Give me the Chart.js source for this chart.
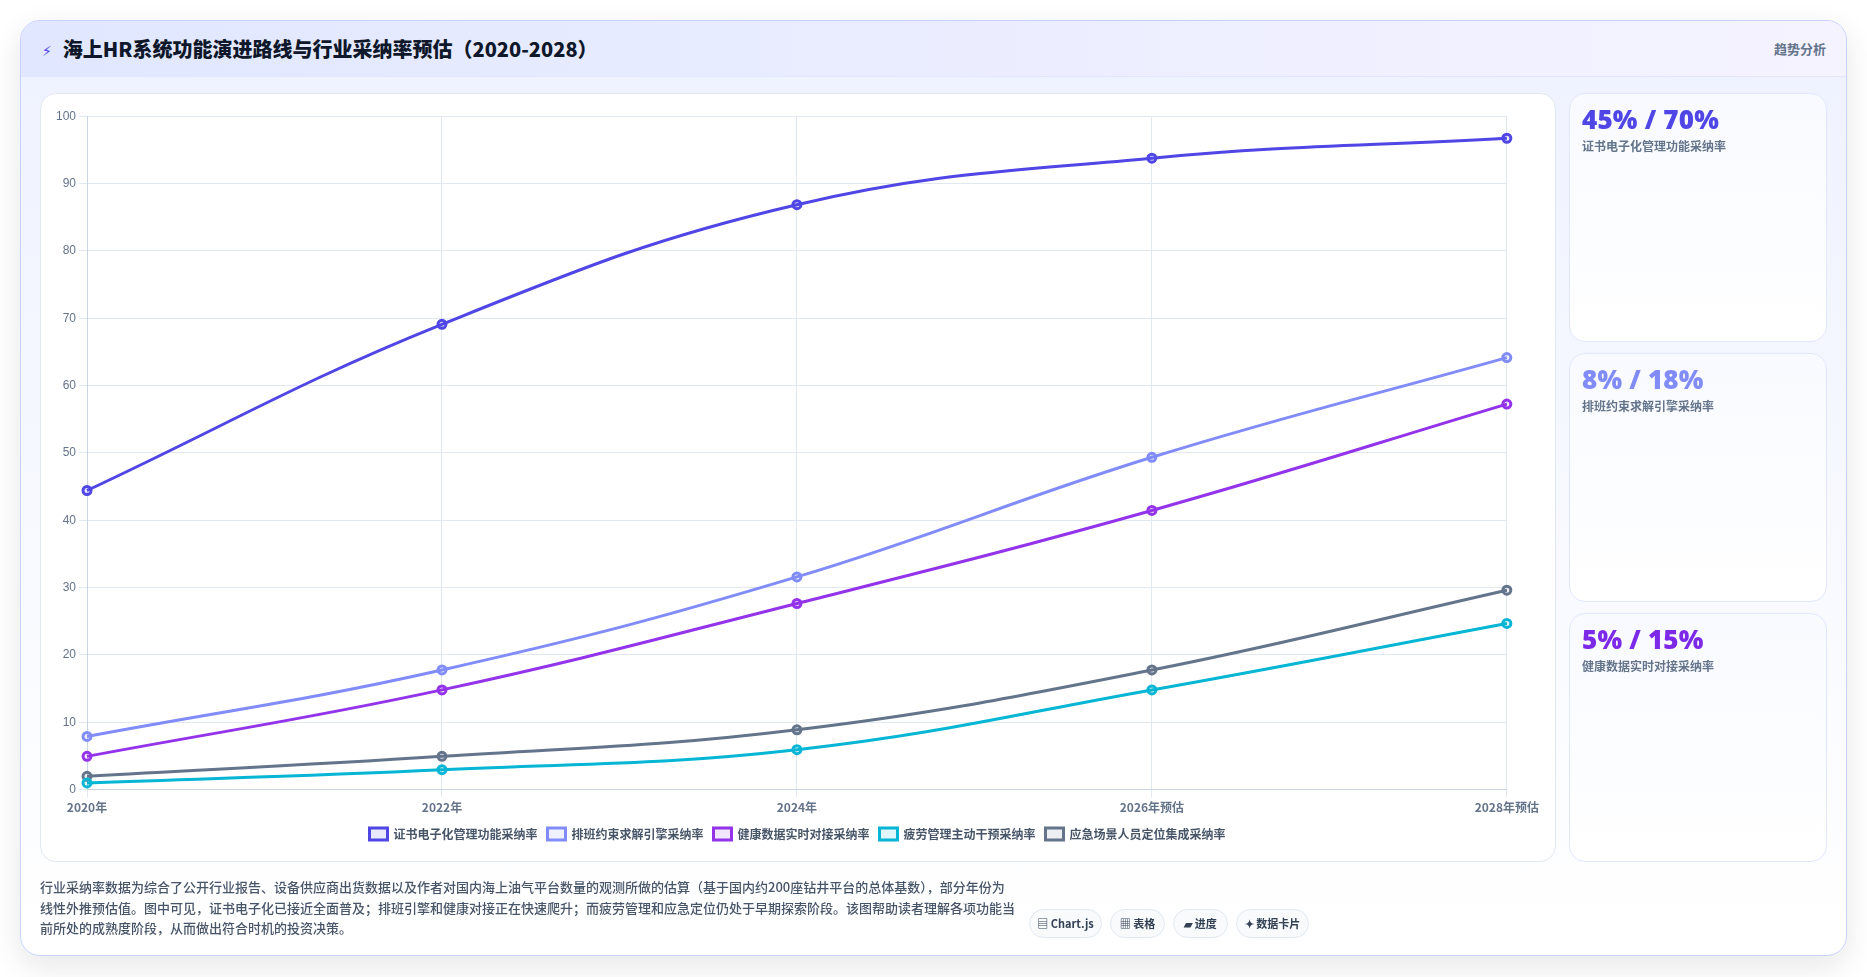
<!DOCTYPE html>
<html lang="zh-CN">
<head>
<meta charset="utf-8">
<title>海上HR系统功能演进路线与行业采纳率预估</title>
<script src="https://cdn.jsdelivr.net/npm/chart.js@4"></script>
<style>
  * { box-sizing: border-box; }
  html, body { margin: 0; height: 100%; background: #fff; overflow: hidden; }
  body { font-family: "Noto Sans CJK SC", "Noto Sans", sans-serif; padding: 20px; color: #475569; }
  .card {
    width: 1827px; height: 936px; border: 1px solid #c7d2fe; border-radius: 20px; overflow: hidden;
    background: linear-gradient(180deg, #eef2ff 0%, #ffffff 100%);
    box-shadow: 0 10px 30px rgba(15, 23, 42, 0.1);
  }
  .head {
    height: 56px; padding: 0 20px 0 21px; display: flex; align-items: center; justify-content: space-between;
    background: linear-gradient(90deg, #e0e7ff, #f5f3ff); border-bottom: 1px solid #e0e7ff;
  }
  .head h1 { margin: 0; font-size: 20px; line-height: 28px; font-weight: 900; color: #0f172a; padding-top: 2px; }
  .head h1 i { font-style: normal; font-size: 14px; color: #4f46e5; margin-right: 11px; vertical-align: 1px; font-family: "DejaVu Sans", sans-serif; font-weight: 400; }
  .head span { font-size: 13px; font-weight: 600; color: #64748b; }
  .main { display: flex; gap: 13px; margin: 16px 19px 0; height: 769px; }
  .panel {
    width: 1516px; height: 769px; padding: 12px 13px 11px 12px; background: #fff; border: 1px solid #e2e8f0; border-radius: 16px;
  }
  canvas { display: block; }
  .side { width: 259px; display: flex; flex-direction: column; gap: 11px; }
  .stat {
    flex: 1; padding: 9px 12px; border: 1px solid #e0e7ff; border-radius: 16px;
    background: linear-gradient(180deg, #f8faff, #ffffff);
  }
  .stat b { display: block; font-family: "Open Sans", sans-serif; font-size: 26px; line-height: 32px; font-weight: 800; letter-spacing: 0.2px; }
  .stat small { display: block; margin-top: 2px; font-size: 12px; line-height: 18px; font-weight: 600; color: #64748b; }
  .foot { display: flex; align-items: flex-end; gap: 14px; margin: 15px 19px 0; }
  .foot p { margin: 0; width: 975px; font-size: 13px; line-height: 20.6px; font-weight: 500; color: #475569; }
  .chips { display: flex; gap: 8px; margin-bottom: 1px; }
  .chips span {
    height: 29px; display: flex; align-items: center; justify-content: center; white-space: nowrap;
    font-size: 11px; font-weight: 600; color: #334155;
    background: #f8fafc; border: 1px solid #e2e8f0; border-radius: 15px;
  }
  .chips span:nth-child(1) { width: 73px; }
  .chips span:nth-child(2), .chips span:nth-child(3) { width: 55px; }
  .chips span:nth-child(4) { width: 73px; }
</style>
</head>
<body>
<div class="card">
  <div class="head">
    <h1><i>⚡</i>海上HR系统功能演进路线与行业采纳率预估（2020-2028）</h1>
    <span>趋势分析</span>
  </div>
  <div class="main">
    <div class="panel"><canvas id="adoptionChart" width="1489" height="744"></canvas></div>
    <div class="side" id="statCards"></div>
  </div>
  <div class="foot">
    <p>行业采纳率数据为综合了公开行业报告、设备供应商出货数据以及作者对国内海上油气平台数量的观测所做的估算（基于国内约200座钻井平台的总体基数），部分年份为线性外推预估值。图中可见，证书电子化已接近全面普及；排班引擎和健康对接正在快速爬升；而疲劳管理和应急定位仍处于早期探索阶段。该图帮助读者理解各项功能当前所处的成熟度阶段，从而做出符合时机的投资决策。</p>
    <div class="chips"><span>▤ Chart.js</span><span>▦ 表格</span><span>▰ 进度</span><span>✦ 数据卡片</span></div>
  </div>
</div>
<script>
const years = ["2020年", "2022年", "2024年", "2026年预估", "2028年预估"];
const certificates = [45, 70, 88, 95, 98];
const scheduling = [8, 18, 32, 50, 65];
const healthData = [5, 15, 28, 42, 58];
const fatigue = [1, 3, 6, 15, 25];
const emergency = [2, 5, 9, 18, 30];

function series(label, data, color, fill) {
  return {
    label: label,
    data: data,
    borderColor: color,
    backgroundColor: fill,
    pointBackgroundColor: fill,
    pointBorderColor: color,
    pointBorderWidth: 3,
    pointRadius: 4,
    borderWidth: 3,
    tension: 0.4,
    fill: false,
  };
}

// easing that stays just short of the end, so the rise stops there
Chart.helpers.easingEffects.holdNearEnd = () => 0.987;

const ctx = document.getElementById("adoptionChart").getContext("2d");
const adoptionChart = new Chart(ctx, {
  type: "line",
  data: {
    labels: years,
    datasets: [
      series("证书电子化管理功能采纳率", certificates, "#4f46e5", "rgba(79, 70, 229, 0.12)"),
      series("排班约束求解引擎采纳率", scheduling, "#818cf8", "rgba(129, 140, 248, 0.12)"),
      series("健康数据实时对接采纳率", healthData, "#9333ea", "rgba(147, 51, 234, 0.12)"),
      series("疲劳管理主动干预采纳率", fatigue, "#06b6d4", "rgba(6, 182, 212, 0.12)"),
      series("应急场景人员定位集成采纳率", emergency, "#64748b", "rgba(100, 116, 139, 0.12)"),
    ],
  },
  options: {
    // fixed canvas size: a resize update would restart the rise
    responsive: false,
    animation: {
      duration: 0,
      onProgress: function (context) {
        context.chart.stop();
      },
    },
    animations: {
      // long enough that a slow first frame cannot finish it
      y: { duration: 3600000, easing: "holdNearEnd" },
    },
    scales: {
      x: {
        grid: { color: "#e2e8f0" },
        border: { color: "#cbd5e1" },
        ticks: { color: "#64748b", font: { size: 12, weight: "600", family: '"Noto Sans CJK SC", sans-serif' }, maxRotation: 0 },
      },
      y: {
        min: 0,
        max: 100,
        grid: { color: "#e2e8f0" },
        border: { color: "#cbd5e1" },
        ticks: { stepSize: 10, color: "#64748b", font: { size: 12, family: '"Liberation Sans", sans-serif' } },
      },
    },
    plugins: {
      legend: {
        position: "bottom",
        labels: {
          boxWidth: 18,
          color: "#475569",
          font: { size: 12, weight: "600", family: '"Noto Sans CJK SC", sans-serif' },
        },
      },
      tooltip: { enabled: false },
    },
  },
});

// side cards: 2020 and 2022 adoption of the three leading features
const statSeries = [
  ["证书电子化管理功能采纳率", certificates, "#4f46e5"],
  ["排班约束求解引擎采纳率", scheduling, "#818cf8"],
  ["健康数据实时对接采纳率", healthData, "#7c2ae8"],
];
document.getElementById("statCards").innerHTML = statSeries
  .map(function (s) {
    return `<div class="stat"><b style="color:${s[2]}">${s[1][0]}% / ${s[1][1]}%</b><small>${s[0]}</small></div>`;
  })
  .join("");
</script>
</body>
</html>
